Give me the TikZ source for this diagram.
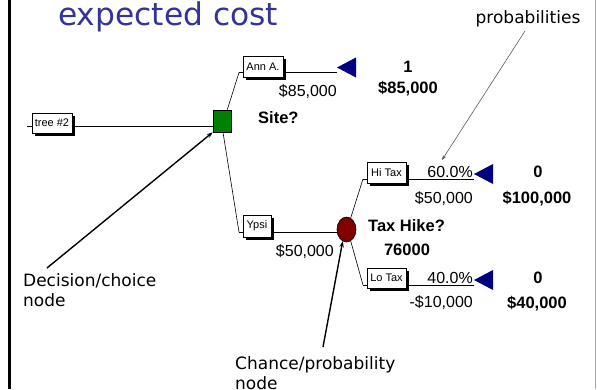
\documentclass[tikz,border=0pt]{standalone}
\usepackage{fontspec}
\setmainfont{Liberation Sans}
\newfontfamily\annfont{DejaVu Sans}
\usetikzlibrary{calc,shadows,backgrounds,arrows.meta,shapes.geometric}
\definecolor{titleblue}{RGB}{51,51,153}
\definecolor{decgreen}{RGB}{0,128,0}
\definecolor{chancered}{RGB}{128,0,0}
\definecolor{termblue}{RGB}{0,0,128}
\definecolor{pointergray}{RGB}{90,90,90}
\tikzset{
  branchbox/.style={draw, fill=white, line width=0.6pt, inner sep=0pt,
    font=\fontsize{11}{12}\selectfont,
    drop shadow={shadow xshift=3pt,shadow yshift=-3pt,opacity=1,fill=black}},
  val/.style={inner sep=0pt, font=\fontsize{16}{18}\selectfont},
  bval/.style={inner sep=0pt, font=\fontsize{16.5}{18}\selectfont\bfseries},
  ann/.style={inner sep=0pt, font=\annfont\fontsize{17}{20}\selectfont, align=left},
  branch/.style={line width=0.9pt},
  knee/.style={line width=0.6pt},
  callout/.style={line width=1.4pt, -{Stealth[length=6pt,width=4.5pt]}},
  thincallout/.style={pointergray, line width=0.6pt, -{Stealth[length=5pt,width=3.5pt]}},
  pics/terminal/.style={code={\fill[termblue] (0,-5) -- (19,-15) -- (19,5) -- cycle;}}
}
\begin{document}
\begin{tikzpicture}[x=1pt,y=-1pt]
\useasboundingbox (0,0) rectangle (597,389);

% frame edges
\draw[line width=3pt] (9,0) -- (9,389);
\draw[gray!70, line width=1pt] (595.5,0) -- (595.5,389);

% title
\node[inner sep=0pt, anchor=base west, font=\annfont\fontsize{31.3}{33}\selectfont,
      text=titleblue] (title) at (58,25) {expected cost};

% decision and chance nodes
\node[draw, fill=decgreen, minimum width=18pt, minimum height=22pt, inner sep=0pt,
      line width=0.6pt] (dec) at (222,121) {};
\node[draw, ellipse, fill=chancered, minimum width=19pt, minimum height=25pt,
      inner sep=0pt, line width=0.6pt] (chance) at (346.5,229.5) {};

% branch label boxes
\node[branchbox, minimum width=40pt, minimum height=20pt] (tree)  at (52,123)    {tree \#2};
\node[branchbox, minimum width=40pt, minimum height=21pt] (annA)  at (263,66.5)  {Ann A.};
\node[branchbox, minimum width=28pt, minimum height=22pt] (ypsi)  at (257,226)   {Ypsi};
\node[branchbox, minimum width=39pt, minimum height=21pt] (hitax) at (386.5,172.5) {Hi Tax};
\node[branchbox, minimum width=39pt, minimum height=20pt] (lotax) at (386.5,278) {Lo Tax};

% branch corners and terminal tips
\coordinate (root) at (27,126);
\coordinate (annK) at (239,72.5);  \coordinate (annT) at (337,72.5);
\coordinate (ypsiK) at (239,232);
\coordinate (hiK) at (363,179);    \coordinate (hiT) at (474,179);
\coordinate (loK) at (363,285);    \coordinate (loT) at (474,285);

\begin{scope}[on background layer]
  \draw[branch] (root) -- (root -| dec.center);
  \draw[knee] (dec.65) -- (annK);
  \draw[branch] (annK) -- (annT);
  \draw[knee] (dec.-85) -- (ypsiK);
  \draw[branch] (ypsiK) -- (ypsiK -| chance.center);
  \draw[knee] (chance.70) -- (hiK);
  \draw[branch] (hiK) -- (hiT);
  \draw[knee] (chance.-70) -- (loK);
  \draw[branch] (loK) -- (loT);
\end{scope}

% terminal nodes
\pic at (annT) {terminal};
\pic at (hiT) {terminal};
\pic at (loT) {terminal};

% values and payoffs
\node[val, anchor=base east] (annV) at (337,96) {\$85,000};
\node[bval, anchor=base] (annP) at (408,72) {1};
\node[bval, anchor=base] (annE) at (408,93) {\$85,000};
\node[bval, anchor=base west] (siteQ) at (258,123) {Site?};
\node[val, anchor=base east] (ypsiV) at (334,256) {\$50,000};
\node[bval, anchor=base west] (taxQ) at (368,231) {Tax Hike?};
\node[bval, anchor=base] (taxE) at (407,255) {76000};
\node[val, anchor=base east] (hiP) at (473,177) {60.0\%};
\node[val, anchor=base east] (hiV) at (473,203) {\$50,000};
\node[bval, anchor=base] (hiN) at (538,177) {0};
\node[bval, anchor=base] (hiE) at (537,203) {\$100,000};
\node[val, anchor=base east] (loP) at (473,283) {40.0\%};
\node[val, anchor=base east] (loV) at (473,307) {-\$10,000};
\node[bval, anchor=base] (loN) at (538,283) {0};
\node[bval, anchor=base] (loE) at (537,308) {\$40,000};

% annotations (base anchor sits on the last line)
\node[ann, anchor=base] (probL) at (528,23) {probabilities};
\node[ann, anchor=base west] (decL) at (23,306) {Decision/choice\\node};
\node[ann, anchor=base west] (chL) at (235,389) {Chance/probability\\node};

\coordinate (decTail) at (47,268);
\coordinate (chTail) at (323,347);
\coordinate (probTail) at (525,31);
\coordinate (probHead) at (442,160);
\draw[callout] (decTail) -- (dec.south west);
\draw[callout] (chTail) -- (chance.-108);
\draw[thincallout] (probTail) -- (probHead);
\end{tikzpicture}
\end{document}
